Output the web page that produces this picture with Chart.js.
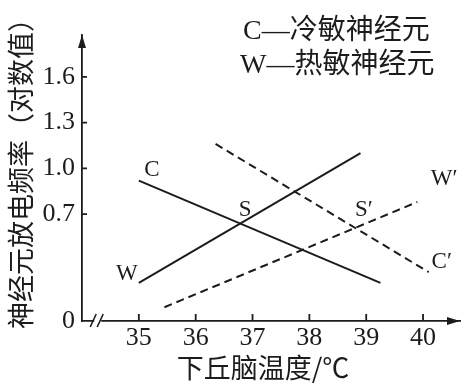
<!DOCTYPE html>
<html><head><meta charset="utf-8">
<script src="https://cdn.jsdelivr.net/npm/chart.js@4"></script>
<style>html,body{margin:0;padding:0;background:#fff}#wrap{width:465px;height:384px}</style>
</head><body><div id="wrap"><canvas id="c" width="465" height="384"></canvas></div>
<script>
const xTicks = [35, 36, 37, 38, 39, 40];
const yTicks = [0, 0.7, 1.0, 1.3, 1.6];
const cTemp = [35.0, 39.25];  const cRate = [0.92, 0.25];
const wTemp = [35.0, 38.9];   const wRate = [0.25, 1.10];
const c2Temp = [36.35, 40.1]; const c2Rate = [1.16, 0.32];
const w2Temp = [35.45, 39.9]; const w2Rate = [0.09, 0.78];
const markNames = ['C', 'W', 'S', 'S′', 'W′', 'C′'];
const markTemps = [35.23, 34.79, 36.87, 38.96, 40.37, 40.33];
const markRates = [0.99, 0.31, 0.73, 0.73, 0.93, 0.39];
const legendLines = ['C—冷敏神经元', 'W—热敏神经元'];
const xTitle = '下丘脑温度/℃';
const yTitle = '神经元放电频率（对数值）';

const INK = '#1c1c1c';
const SERIF = "'Liberation Serif', 'Noto Sans CJK SC'";
const CJK = "'Noto Sans CJK SC'";

function pts(xs, ys) { return xs.map((x, i) => ({x, y: ys[i]})); }

const decor = {
  id: 'decor',
  afterDraw(chart) {
    const ctx = chart.ctx, xs = chart.scales.x, ys = chart.scales.y;
    const L = chart.chartArea.left, B = chart.chartArea.bottom, T = chart.chartArea.top, R = chart.chartArea.right;
    ctx.save();
    ctx.strokeStyle = INK; ctx.fillStyle = INK; ctx.lineWidth = 1.8;
    // tick marks
    ctx.beginPath();
    yTicks.forEach(v => { if (v === 0) return; const p = ys.getPixelForValue(v); ctx.moveTo(L, p); ctx.lineTo(L + 5, p); });
    xTicks.forEach(v => { const p = xs.getPixelForValue(v); ctx.moveTo(p, B); ctx.lineTo(p, B - 7); });
    ctx.stroke();
    // arrows
    ctx.beginPath(); ctx.moveTo(L, T); ctx.lineTo(L - 4, T + 13); ctx.lineTo(L + 4, T + 13); ctx.closePath(); ctx.fill();
    ctx.beginPath(); ctx.moveTo(R, B); ctx.lineTo(R - 13, B - 4); ctx.lineTo(R - 13, B + 4); ctx.closePath(); ctx.fill();
    // axis break
    const bx = xs.getPixelForValue(34.25);
    ctx.fillStyle = '#fff'; ctx.fillRect(bx - 2, B - 2, 7, 4);
    ctx.fillStyle = INK;
    ctx.lineWidth = 1.6;
    ctx.beginPath();
    ctx.moveTo(bx - 6, B + 6); ctx.lineTo(bx, B - 7);
    ctx.moveTo(bx + 1, B + 6); ctx.lineTo(bx + 7, B - 7);
    ctx.stroke();
    // curve labels
    ctx.font = '23px ' + SERIF; ctx.textAlign = 'center'; ctx.textBaseline = 'middle';
    markNames.forEach((n, i) => ctx.fillText(n, xs.getPixelForValue(markTemps[i]), ys.getPixelForValue(markRates[i])));
    // legend text
    ctx.font = '28px ' + SERIF; ctx.textAlign = 'left';
    ctx.fillText(legendLines[0], 243, 32);
    ctx.fillText(legendLines[1], 240, 66);
    // axis titles
    ctx.font = '27px ' + CJK; ctx.textAlign = 'center';
    ctx.fillText(xTitle, 263, 368);
    ctx.translate(21, 167); ctx.rotate(-Math.PI / 2);
    ctx.fillText(yTitle, 0, 0);
    ctx.restore();
  }
};

new Chart(document.getElementById('c'), {
  type: 'scatter',
  data: {
    datasets: [
      {label: 'C', data: pts(cTemp, cRate)},
      {label: 'W', data: pts(wTemp, wRate)},
      {label: 'C′', data: pts(c2Temp, c2Rate), borderDash: [8, 5]},
      {label: 'W′', data: pts(w2Temp, w2Rate), borderDash: [8, 5]}
    ].map(d => Object.assign({showLine: true, pointRadius: 0, borderColor: INK, borderWidth: 2, fill: false}, d))
  },
  options: {
    responsive: false, animation: false,
    layout: {padding: {top: 35, right: 5, left: 0, bottom: 0}},
    plugins: {legend: {display: false}, tooltip: {enabled: false}},
    scales: {
      x: {
        type: 'linear', min: 34, max: 40.65,
        afterBuildTicks: ax => { ax.ticks = xTicks.map(v => ({value: v})); },
        afterFit: s => { s.height = 63; },
        grid: {display: false, drawTicks: false, tickLength: 0},
        border: {display: true, color: INK, width: 1.8},
        ticks: {autoSkip: false, maxRotation: 0, color: INK, padding: 2, font: {family: SERIF, size: 26}, callback: v => String(v)}
      },
      y: {
        type: 'linear', min: 0, max: 1.874,
        afterBuildTicks: ax => { ax.ticks = yTicks.map(v => ({value: v})); },
        afterFit: s => { s.width = 82; },
        grid: {display: false, drawTicks: false, tickLength: 0},
        border: {display: true, color: INK, width: 1.8},
        ticks: {autoSkip: false, color: INK, padding: 7, font: {family: SERIF, size: 26}, callback: v => v === 0 ? '0' : v.toFixed(1)}
      }
    }
  },
  plugins: [decor]
});
</script></body></html>
